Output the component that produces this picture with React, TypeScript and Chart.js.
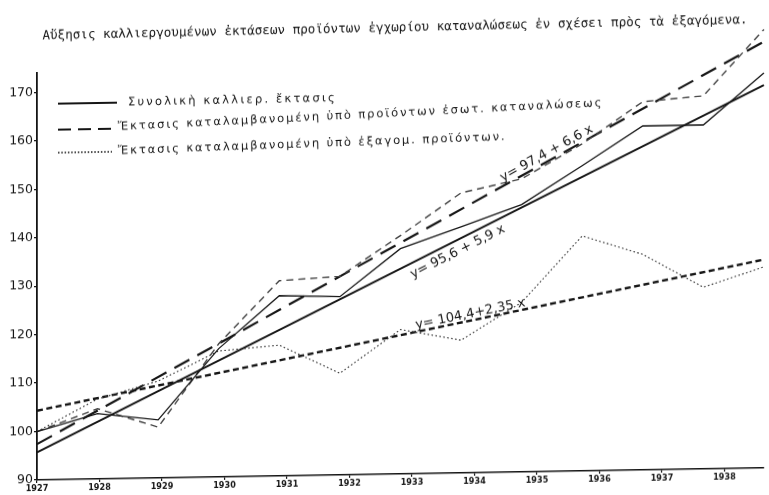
import React, { useEffect, useRef } from "react";
import { Chart, registerables } from "chart.js";

Chart.register(...registerables);

// ---- data ----
const years = [1927, 1928, 1929, 1930, 1931, 1932, 1933, 1934, 1935, 1936, 1937, 1938, 1939];
const totalArea = [100, 103.5, 102, 116.5, 127.2, 126.8, 136.5, 140.8, 145.2, 153, 161, 161, 171.5];
const domesticArea = [100, 104.5, 100.5, 117.5, 130.3, 131, 139.2, 147.8, 150.5, 157.5, 166, 167, 180.5];
const exportArea = [100, 106.5, 110, 116, 117, 111, 119.8, 117.4, 125, 138.5, 134.5, 127.5, 131.5];

const trendYears = [1927, 1939];
const totalTrend = [95.7, 169];
const domesticTrend = [97.4, 178];
const exportTrend = [104.3, 133];

const xTickLabels = [1927, 1928, 1929, 1930, 1931, 1932, 1933, 1934, 1935, 1936, 1937, 1938];
const yTickValues = [90, 100, 110, 120, 130, 140, 150, 160, 170];

const titleText =
  "Αὔξησις καλλιεργουμένων ἐκτάσεων προϊόντων ἐγχωρίου καταναλώσεως ἐν σχέσει πρὸς τὰ ἐξαγόμενα.";
const seriesNames = [
  "Συνολικὴ καλλιερ. ἔκτασις",
  "Ἔκτασις καταλαμβανομένη ὑπὸ προϊόντων ἐσωτ. καταναλώσεως",
  "Ἔκτασις καταλαμβανομένη ὑπὸ ἐξαγομ. προϊόντων.",
];
const trendEquations = ["y= 95,6 + 5,9 x", "y= 97,4 + 6,6 x", "y= 104,4+2,35 x"];

const pts = (xs: number[], ys: number[]) => xs.map((x, i) => ({ x, y: ys[i] }));

const INK = "#151515";

const titlePlugin = {
  id: "handTitle",
  afterDraw(chart: any) {
    const ctx = chart.ctx;
    ctx.save();
    ctx.translate(395, 34);
    ctx.rotate(-0.006);
    ctx.font = "12.6px 'DejaVu Sans Mono', monospace";
    ctx.fillStyle = INK;
    ctx.textAlign = "center";
    ctx.textBaseline = "middle";
    ctx.fillText(titleText, 0, 0);
    ctx.restore();
  },
};

const legendRows = [
  { lineY: 104, x1: 58, x2: 117, textX: 128, textY: 104, rot: -0.004, dash: [] as number[], width: 1.8, spacing: 2.2 },
  { lineY: 130, x1: 58, x2: 117, textX: 118, textY: 128.5, rot: -0.033, dash: [13, 7], width: 2.2, spacing: 1.9 },
  { lineY: 153, x1: 58, x2: 112, textX: 118, textY: 152.5, rot: -0.02, dash: [1.5, 1.8], width: 1.3, spacing: 1.9 },
];

const legendPlugin = {
  id: "handLegend",
  afterDatasetsDraw(chart: any) {
    const ctx = chart.ctx;
    ctx.save();
    legendRows.forEach((r, i) => {
      ctx.beginPath();
      ctx.setLineDash(r.dash);
      ctx.lineWidth = r.width;
      ctx.strokeStyle = INK;
      ctx.moveTo(r.x1, r.lineY);
      ctx.lineTo(r.x2, r.lineY);
      ctx.stroke();
      ctx.setLineDash([]);
      ctx.save();
      ctx.translate(r.textX, r.textY);
      ctx.rotate(r.rot);
      ctx.font = "11.5px 'DejaVu Sans', sans-serif";
      (ctx as any).letterSpacing = r.spacing + "px";
      ctx.fillStyle = INK;
      ctx.textAlign = "left";
      ctx.textBaseline = "middle";
      ctx.fillText(seriesNames[i], 0, 0);
      ctx.restore();
    });
    ctx.restore();
  },
};

// which trend dataset, year where text starts, perpendicular baseline offset
const equationPlacement = [
  { ds: 1, at: 1933.1, offset: 14 },
  { ds: 3, at: 1934.72, offset: -4 },
  { ds: 5, at: 1933.27, offset: -3 },
];

const equationPlugin = {
  id: "trendEquations",
  afterDatasetsDraw(chart: any) {
    const ctx = chart.ctx;
    const xs = chart.scales.x;
    const ys = chart.scales.y;
    ctx.save();
    equationPlacement.forEach((p, i) => {
      const data = chart.data.datasets[p.ds].data;
      const a = data[0];
      const b = data[data.length - 1];
      const x0 = xs.getPixelForValue(a.x);
      const y0 = ys.getPixelForValue(a.y);
      const x1 = xs.getPixelForValue(b.x);
      const y1 = ys.getPixelForValue(b.y);
      const t = (p.at - a.x) / (b.x - a.x);
      const px = x0 + t * (x1 - x0);
      const py = y0 + t * (y1 - y0);
      ctx.save();
      ctx.translate(px, py);
      ctx.rotate(Math.atan2(y1 - y0, x1 - x0));
      ctx.font = "13px 'DejaVu Sans', sans-serif";
      ctx.fillStyle = INK;
      ctx.textAlign = "left";
      ctx.textBaseline = "alphabetic";
      ctx.fillText(trendEquations[i], 0, p.offset);
      ctx.restore();
    });
    ctx.restore();
  },
};

export default function App() {
  const ref = useRef<HTMLCanvasElement | null>(null);

  useEffect(() => {
    document.body.style.margin = "0";
    const canvas = ref.current;
    if (!canvas) return;
    const chart = new Chart(canvas, {
      type: "line",
      data: {
        datasets: [
          {
            label: seriesNames[0],
            data: pts(years, totalArea),
            borderColor: INK,
            borderWidth: 1.3,
            pointRadius: 0,
            clip: false,
          },
          {
            label: seriesNames[0] + " (trend)",
            data: pts(trendYears, totalTrend),
            borderColor: INK,
            borderWidth: 2,
            pointRadius: 0,
            clip: false,
          },
          {
            label: seriesNames[1],
            data: pts(years, domesticArea),
            borderColor: "#444",
            borderWidth: 1.4,
            borderDash: [7, 5],
            pointRadius: 0,
            clip: false,
          },
          {
            label: seriesNames[1] + " (trend)",
            data: pts(trendYears, domesticTrend),
            borderColor: INK,
            borderWidth: 2.2,
            borderDash: [17, 9],
            pointRadius: 0,
            clip: false,
          },
          {
            label: seriesNames[2],
            data: pts(years, exportArea),
            borderColor: "#333",
            borderWidth: 1.1,
            borderDash: [1.6, 2.4],
            pointRadius: 0,
            clip: false,
          },
          {
            label: seriesNames[2] + " (trend)",
            data: pts(trendYears, exportTrend),
            borderColor: INK,
            borderWidth: 2.4,
            borderDash: [6, 3.5],
            pointRadius: 0,
            clip: false,
          },
        ],
      },
      options: {
        animation: false,
        responsive: false,
        devicePixelRatio: 1,
        layout: { padding: { top: 73, right: 5, left: 0, bottom: 0 } },
        plugins: {
          legend: { display: false },
          title: { display: false },
          tooltip: { enabled: false },
        },
        elements: { line: { tension: 0 } },
        scales: {
          x: {
            type: "linear",
            min: 1927,
            max: 1939,
            display: false,
          },
          xt: {
            type: "linear",
            position: "bottom",
            min: 1927,
            max: 1927 + 727 / 62.5,
            afterBuildTicks: (s: any) => {
              s.ticks = xTickLabels.map((v) => ({ value: v }));
            },
            afterFit: (s: any) => {
              s.height = 15;
            },
            ticks: {
              autoSkip: false,
              maxRotation: 0,
              padding: 0,
              color: INK,
              font: { family: "'DejaVu Sans Condensed', 'DejaVu Sans', sans-serif", size: 9, weight: "bold" },
              callback: (v: any) => String(v),
            },
            grid: { drawOnChartArea: false, tickLength: 3, color: INK, lineWidth: 1.2 },
            border: { color: INK, width: 1.6 },
          },
          y: {
            type: "linear",
            min: 90,
            max: 174,
            afterBuildTicks: (s: any) => {
              s.ticks = yTickValues.map((v) => ({ value: v }));
            },
            afterFit: (s: any) => {
              s.width = 37;
            },
            ticks: {
              padding: 1,
              color: INK,
              font: { family: "'DejaVu Sans', sans-serif", size: 12.5 },
              callback: (v: any) => String(v),
            },
            grid: { drawOnChartArea: false, tickLength: 3, color: INK, lineWidth: 1.2 },
            border: { color: INK, width: 1.8 },
          },
        },
      } as any,
      plugins: [titlePlugin, legendPlugin, equationPlugin],
    });
    return () => chart.destroy();
  }, []);

  return (
    <div
      style={{
        width: 769,
        height: 495,
        transform: "skewY(-0.95deg)",
        transformOrigin: "37px 480px",
      }}
    >
      <canvas ref={ref} width={769} height={495} style={{ display: "block" }} />
    </div>
  );
}
